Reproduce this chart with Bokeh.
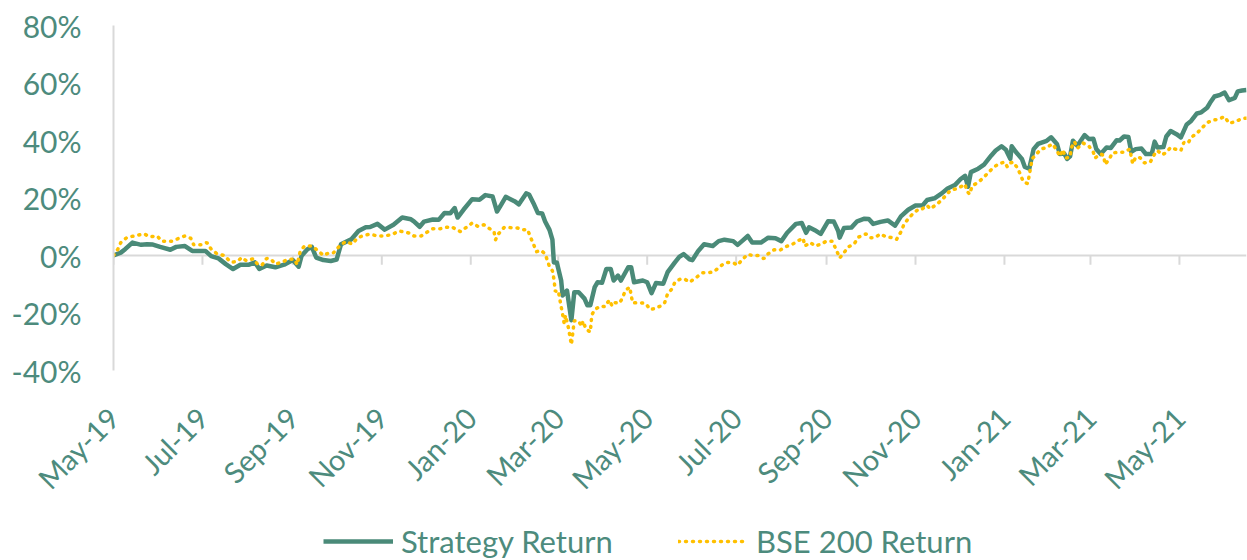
import math
import pandas as pd
from bokeh.plotting import figure
from bokeh.layouts import column
from bokeh.models import (Range1d, MonthsTicker, DatetimeTickFormatter, Span,
                          FixedTicker, PrintfTickFormatter, Legend, LegendItem, ColumnDataSource)
from bokeh.embed import file_html
from bokeh.resources import INLINE

# ---------------- data (cumulative return, %) ----------------
strategy_dates = [
    "2019-05-01", "2019-05-06", "2019-05-09", "2019-05-14", "2019-05-20", "2019-05-24", "2019-05-28",
    "2019-06-02", "2019-06-09", "2019-06-13", "2019-06-19", "2019-06-24", "2019-07-03", "2019-07-07",
    "2019-07-12", "2019-07-17", "2019-07-22", "2019-07-27", "2019-08-02", "2019-08-06", "2019-08-09",
    "2019-08-14", "2019-08-20", "2019-08-26", "2019-09-01", "2019-09-05", "2019-09-07", "2019-09-11",
    "2019-09-14", "2019-09-17", "2019-09-22", "2019-09-27", "2019-10-01", "2019-10-04", "2019-10-11",
    "2019-10-16", "2019-10-21", "2019-10-24", "2019-10-29", "2019-11-03", "2019-11-09", "2019-11-15",
    "2019-11-21", "2019-11-23", "2019-11-27", "2019-11-30", "2019-12-06", "2019-12-10", "2019-12-14",
    "2019-12-18", "2019-12-21", "2019-12-23", "2019-12-27", "2020-01-02", "2020-01-07", "2020-01-11",
    "2020-01-16", "2020-01-19", "2020-01-22", "2020-01-25", "2020-01-31", "2020-02-03", "2020-02-08",
    "2020-02-10", "2020-02-13", "2020-02-16", "2020-02-19", "2020-02-21", "2020-02-24", "2020-02-26",
    "2020-02-27", "2020-02-29", "2020-03-03", "2020-03-04", "2020-03-07", "2020-03-10", "2020-03-12",
    "2020-03-15", "2020-03-19", "2020-03-21", "2020-03-23", "2020-03-26", "2020-03-28", "2020-03-31",
    "2020-04-03", "2020-04-06", "2020-04-08", "2020-04-11", "2020-04-13", "2020-04-18", "2020-04-20",
    "2020-04-22", "2020-04-28", "2020-05-01", "2020-05-04", "2020-05-07", "2020-05-12", "2020-05-15",
    "2020-05-20", "2020-05-23", "2020-05-26", "2020-05-30", "2020-06-01", "2020-06-05", "2020-06-09",
    "2020-06-15", "2020-06-19", "2020-06-23", "2020-06-29", "2020-07-02", "2020-07-05", "2020-07-09",
    "2020-07-12", "2020-07-18", "2020-07-23", "2020-07-28", "2020-08-01", "2020-08-05", "2020-08-11",
    "2020-08-15", "2020-08-18", "2020-08-20", "2020-08-25", "2020-08-28", "2020-09-02", "2020-09-06",
    "2020-09-09", "2020-09-10", "2020-09-13", "2020-09-18", "2020-09-22", "2020-09-27", "2020-09-30",
    "2020-10-03", "2020-10-08", "2020-10-13", "2020-10-18", "2020-10-22", "2020-10-27", "2020-11-01",
    "2020-11-06", "2020-11-09", "2020-11-14", "2020-11-19", "2020-11-23", "2020-11-28", "2020-12-02",
    "2020-12-05", "2020-12-07", "2020-12-09", "2020-12-14", "2020-12-18", "2020-12-23", "2020-12-26",
    "2020-12-30", "2021-01-02", "2021-01-05", "2021-01-06", "2021-01-09", "2021-01-13", "2021-01-15",
    "2021-01-18", "2021-01-21", "2021-01-24", "2021-01-30", "2021-02-02", "2021-02-06", "2021-02-08",
    "2021-02-11", "2021-02-13", "2021-02-15", "2021-02-17", "2021-02-20", "2021-02-25", "2021-02-28",
    "2021-03-03", "2021-03-05", "2021-03-08", "2021-03-12", "2021-03-15", "2021-03-19", "2021-03-21",
    "2021-03-24", "2021-03-27", "2021-03-29", "2021-04-01", "2021-04-05", "2021-04-08", "2021-04-12",
    "2021-04-14", "2021-04-16", "2021-04-20", "2021-04-22", "2021-04-25", "2021-04-29", "2021-05-02",
    "2021-05-06", "2021-05-09", "2021-05-13", "2021-05-16", "2021-05-20", "2021-05-22", "2021-05-25",
    "2021-05-29", "2021-06-01", "2021-06-04", "2021-06-08", "2021-06-10", "2021-06-13", "2021-06-16",
]
strategy_return = [
    0.0, 1.0, 2.2, 4.5, 3.7, 3.9, 3.8,
    3.0, 2.0, 3.0, 3.3, 1.6, 1.6, -0.2,
    -1.0, -3.0, -4.7, -3.2, -3.2, -2.4, -4.7,
    -3.5, -4.1, -3.2, -1.6, -3.9, -0.1, 2.2,
    3.0, -0.7, -1.6, -1.9, -1.4, 3.9, 5.6,
    8.5, 9.8, 9.9, 11.0, 9.0, 10.7, 13.2,
    12.6, 11.9, 10.0, 11.8, 12.5, 12.4, 14.8,
    14.7, 16.5, 13.2, 15.9, 19.6, 19.4, 21.0,
    20.5, 15.3, 17.8, 20.4, 18.9, 17.8, 21.6,
    21.2, 18.2, 14.8, 14.6, 11.8, 8.9, 5.5,
    -2.4, -2.4, -8.7, -13.9, -12.2, -22.5, -12.8,
    -12.8, -15.0, -17.3, -17.3, -11.0, -9.3, -9.5,
    -4.7, -4.7, -8.7, -7.0, -8.7, -4.1, -4.1,
    -9.3, -8.7, -9.3, -13.1, -9.6, -9.8, -5.8,
    -2.4, -0.5, 0.5, -1.3, -1.6, 1.6, 3.9,
    3.3, 5.0, 5.5, 5.0, 3.7, 5.0, 6.8,
    4.5, 4.5, 6.2, 6.0, 5.0, 7.9, 11.0,
    11.3, 7.9, 9.8, 8.5, 7.5, 11.9, 11.8,
    8.5, 6.2, 9.6, 9.7, 11.9, 12.8, 12.7,
    11.0, 11.7, 12.2, 10.4, 13.6, 15.9, 17.4,
    17.5, 19.3, 19.9, 21.6, 23.3, 24.5, 26.6,
    27.7, 23.9, 29.0, 30.2, 31.6, 34.8, 36.5,
    38.0, 36.8, 33.6, 38.0, 35.9, 33.6, 30.8,
    30.2, 37.0, 38.8, 39.9, 41.1, 38.8, 35.3,
    35.5, 33.6, 34.5, 39.9, 38.2, 41.9, 40.5,
    40.6, 37.0, 35.3, 37.6, 37.4, 40.1, 40.0,
    41.4, 41.2, 36.1, 37.0, 37.2, 35.3, 35.3,
    39.6, 37.6, 37.7, 41.4, 43.3, 42.2, 41.1,
    45.6, 46.8, 49.4, 49.8, 51.4, 53.1, 55.3,
    55.9, 56.7, 54.0, 54.8, 57.1, 57.4, 57.6,
]

bse_dates = [
    "2019-05-01", "2019-05-04", "2019-05-06", "2019-05-10", "2019-05-15", "2019-05-22", "2019-05-26",
    "2019-05-31", "2019-06-03", "2019-06-10", "2019-06-15", "2019-06-19", "2019-06-23", "2019-06-25",
    "2019-06-30", "2019-07-04", "2019-07-07", "2019-07-11", "2019-07-16", "2019-07-18", "2019-07-21",
    "2019-07-25", "2019-07-28", "2019-07-31", "2019-08-05", "2019-08-08", "2019-08-11", "2019-08-14",
    "2019-08-17", "2019-08-20", "2019-08-25", "2019-08-29", "2019-09-02", "2019-09-04", "2019-09-06",
    "2019-09-09", "2019-09-14", "2019-09-18", "2019-09-22", "2019-09-26", "2019-09-29", "2019-10-03",
    "2019-10-07", "2019-10-12", "2019-10-15", "2019-10-20", "2019-10-24", "2019-10-29", "2019-11-03",
    "2019-11-08", "2019-11-13", "2019-11-20", "2019-11-23", "2019-11-28", "2019-12-02", "2019-12-06",
    "2019-12-11", "2019-12-15", "2019-12-19", "2019-12-22", "2019-12-25", "2019-12-29", "2020-01-02",
    "2020-01-06", "2020-01-10", "2020-01-14", "2020-01-17", "2020-01-18", "2020-01-20", "2020-01-24",
    "2020-01-28", "2020-02-02", "2020-02-05", "2020-02-09", "2020-02-11", "2020-02-13", "2020-02-15",
    "2020-02-18", "2020-02-21", "2020-02-24", "2020-02-26", "2020-02-27", "2020-02-28", "2020-03-01",
    "2020-03-03", "2020-03-04", "2020-03-05", "2020-03-06", "2020-03-08", "2020-03-09", "2020-03-10",
    "2020-03-12", "2020-03-15", "2020-03-17", "2020-03-18", "2020-03-20", "2020-03-23", "2020-03-24",
    "2020-03-26", "2020-03-30", "2020-04-02", "2020-04-05", "2020-04-07", "2020-04-09", "2020-04-12",
    "2020-04-14", "2020-04-16", "2020-04-19", "2020-04-21", "2020-04-26", "2020-04-30", "2020-05-03",
    "2020-05-06", "2020-05-10", "2020-05-13", "2020-05-15", "2020-05-18", "2020-05-20", "2020-05-24",
    "2020-05-27", "2020-05-30", "2020-06-04", "2020-06-08", "2020-06-10", "2020-06-15", "2020-06-18",
    "2020-06-22", "2020-06-25", "2020-06-29", "2020-07-02", "2020-07-05", "2020-07-09", "2020-07-13",
    "2020-07-16", "2020-07-20", "2020-07-23", "2020-07-27", "2020-07-31", "2020-08-04", "2020-08-08",
    "2020-08-12", "2020-08-16", "2020-08-17", "2020-08-21", "2020-08-24", "2020-08-28", "2020-09-01",
    "2020-09-05", "2020-09-07", "2020-09-09", "2020-09-10", "2020-09-13", "2020-09-16", "2020-09-20",
    "2020-09-23", "2020-09-28", "2020-10-01", "2020-10-04", "2020-10-08", "2020-10-12", "2020-10-15",
    "2020-10-19", "2020-10-22", "2020-10-24", "2020-10-27", "2020-10-30", "2020-11-03", "2020-11-05",
    "2020-11-09", "2020-11-11", "2020-11-15", "2020-11-19", "2020-11-22", "2020-11-25", "2020-11-30",
    "2020-12-05", "2020-12-06", "2020-12-08", "2020-12-10", "2020-12-14", "2020-12-18", "2020-12-21",
    "2020-12-24", "2020-12-28", "2021-01-01", "2021-01-03", "2021-01-05", "2021-01-07", "2021-01-10",
    "2021-01-12", "2021-01-14", "2021-01-17", "2021-01-18", "2021-01-20", "2021-01-23", "2021-01-26",
    "2021-01-30", "2021-02-03", "2021-02-06", "2021-02-08", "2021-02-10", "2021-02-12", "2021-02-15",
    "2021-02-16", "2021-02-18", "2021-02-20", "2021-02-24", "2021-02-28", "2021-03-03", "2021-03-04",
    "2021-03-08", "2021-03-10", "2021-03-11", "2021-03-14", "2021-03-16", "2021-03-20", "2021-03-24",
    "2021-03-28", "2021-03-29", "2021-03-30", "2021-04-01", "2021-04-04", "2021-04-07", "2021-04-11",
    "2021-04-14", "2021-04-16", "2021-04-19", "2021-04-22", "2021-04-25", "2021-04-28", "2021-05-02",
    "2021-05-04", "2021-05-07", "2021-05-09", "2021-05-13", "2021-05-16", "2021-05-20", "2021-05-24",
    "2021-05-27", "2021-06-01", "2021-06-04", "2021-06-08", "2021-06-13", "2021-06-16",
]
bse_return = [
    0.0, 2.2, 4.5, 6.2, 6.8, 7.5, 6.5,
    6.8, 5.0, 5.0, 6.0, 6.8, 6.0, 3.7,
    3.7, 4.5, 2.2, 0.6, 0.0, -1.1, -2.4,
    -2.0, -0.7, -1.8, -1.1, -3.2, -3.2, -1.0,
    -1.3, -3.0, -2.2, -1.3, -1.3, -3.2, 1.4,
    3.3, 3.3, 1.8, 0.0, 1.0, 1.0, 3.3,
    4.8, 4.0, 6.0, 7.1, 7.4, 6.8, 6.8,
    7.3, 8.5, 7.8, 6.8, 6.8, 8.1, 9.3,
    9.3, 9.8, 10.0, 9.0, 8.3, 9.8, 11.3,
    10.1, 10.7, 9.3, 8.2, 5.5, 7.5, 9.8,
    9.7, 9.6, 9.0, 9.0, 6.3, 4.0, 1.3,
    1.8, 0.6, -3.9, -5.3, -8.1, -12.5, -12.2,
    -17.8, -20.4, -23.5, -20.8, -25.2, -28.1, -31.0,
    -22.7, -22.8, -24.7, -22.8, -25.6, -26.6, -20.7,
    -18.8, -17.6, -17.8, -15.5, -17.6, -16.4, -16.6,
    -14.8, -12.2, -11.0, -16.5, -16.4, -16.7, -18.8,
    -18.5, -17.6, -16.4, -13.3, -11.6, -9.3, -8.1,
    -8.3, -9.3, -7.5, -6.0, -6.0, -5.8, -4.7,
    -3.0, -2.4, -2.5, -3.4, -1.5, 0.4, -0.1,
    0.0, -1.1, 0.6, 2.0, 1.8, 3.1, 3.7,
    5.0, 6.0, 3.3, 4.5, 3.3, 3.9, 5.0,
    5.0, 2.7, 0.4, -0.9, 1.0, 3.0, 4.1,
    6.4, 7.5, 6.2, 6.2, 7.5, 6.4, 6.3,
    5.6, 8.2, 10.7, 12.8, 14.4, 16.1, 16.0,
    17.4, 16.2, 17.6, 19.3, 21.0, 22.7, 23.3,
    24.8, 22.7, 21.3, 24.3, 25.4, 27.3, 28.8,
    30.4, 31.9, 32.5, 30.8, 32.2, 32.5, 30.4,
    28.1, 25.6, 25.0, 27.9, 33.6, 35.3, 37.0,
    37.6, 38.8, 36.5, 34.5, 36.8, 33.9, 34.2,
    37.6, 39.6, 37.3, 39.1, 38.0, 35.9, 33.9,
    35.3, 34.8, 31.6, 33.6, 35.7, 35.9, 35.9,
    37.0, 34.2, 31.9, 34.2, 34.0, 32.2, 32.5,
    35.3, 36.5, 35.0, 35.8, 37.6, 37.0, 36.5,
    39.3, 39.1, 41.1, 42.5, 44.1, 46.2, 47.1,
    47.3, 48.3, 46.0, 46.5, 47.6, 47.8,
]

y_ticks = [-40, -20, 0, 20, 40, 60, 80]
tick_months = [0, 2, 4, 6, 8, 10]          # Bokeh months are 0-based: Jan, Mar, May, ...
series_names = ["Strategy Return", "BSE 200 Return"]

# ---------------- style ----------------
TEAL = "#4A8A78"
TEXT = "#4D8B7D"
GOLD = "#FFC000"
GRAY = "#D9D9D9"
FONT = "Lato"
W = 1247

s_src = ColumnDataSource(dict(x=pd.to_datetime(strategy_dates), y=strategy_return))
b_src = ColumnDataSource(dict(x=pd.to_datetime(bse_dates), y=bse_return))

x_start = pd.Timestamp(strategy_dates[0])
x_end = pd.Timestamp(strategy_dates[-1])
tick_dates = pd.date_range(x_start, x_end, freq="2MS")

p = figure(width=W, height=510, x_axis_type="datetime",
           x_range=Range1d(x_start, x_end), y_range=Range1d(y_ticks[0], y_ticks[-1]),
           output_backend="svg", toolbar_location=None,
           min_border_left=113, min_border_top=25, min_border_right=1, min_border_bottom=137)
p.outline_line_color = None
p.xgrid.visible = False
p.ygrid.visible = False

# y axis
ya = p.yaxis[0]
ya.ticker = FixedTicker(ticks=y_ticks)
ya.formatter = PrintfTickFormatter(format="%d%%")
ya.axis_line_color = GRAY
ya.axis_line_width = 2
ya.major_tick_line_color = None
ya.minor_tick_line_color = None
ya.major_label_text_font = FONT
ya.major_label_text_font_size = "30px"
ya.major_label_text_color = TEXT
ya.major_label_standoff = 26

# bottom axis: labels only
xa = p.xaxis[0]
xa.ticker = MonthsTicker(months=tick_months)
xa.formatter = DatetimeTickFormatter(months="%b-%y", days="%b-%y", years="%b-%y")
xa.axis_line_color = None
xa.major_tick_line_color = None
xa.minor_tick_line_color = None
xa.major_label_orientation = math.pi / 4
xa.major_label_text_font = FONT
xa.major_label_text_font_size = "29px"
xa.major_label_text_color = TEXT
xa.major_label_standoff = 36

# zero line with small downward tick marks at the label dates
p.add_layout(Span(location=0, dimension="width", line_color=GRAY, line_width=2, level="underlay"))
p.segment(x0=tick_dates, y0=0, x1=tick_dates, y1=-3.2, line_color=GRAY, line_width=2)

p.line("x", "y", source=s_src, line_color=TEAL, line_width=4.5, line_join="round")
p.line("x", "y", source=b_src, line_color=GOLD, line_width=3.5, line_dash="1 6", line_cap="round")

# ---------------- legend strip below the chart ----------------
# (its frame is aligned with the chart frame by the column layout)
lg = figure(width=W, height=50, x_range=Range1d(0, 1), y_range=Range1d(0, 1),
            output_backend="svg", toolbar_location=None,
            x_axis_location=None, y_axis_location=None,
            min_border_left=0, min_border_right=0, min_border_top=0, min_border_bottom=0)
lg.outline_line_color = None
lg.xgrid.visible = False
lg.ygrid.visible = False
# legend-only proxy lines, kept outside the visible range of this strip
proxy = ColumnDataSource(dict(x=[5, 6], y=[5, 6]))
g1 = lg.line("x", "y", source=proxy, line_color=TEAL, line_width=4.5)
g2 = lg.line("x", "y", source=proxy, line_color=GOLD, line_width=3.5, line_dash="1 6", line_cap="round")
legend = Legend(items=[LegendItem(label=series_names[0], renderers=[g1]),
                       LegendItem(label=series_names[1], renderers=[g2])],
                orientation="horizontal", location=(210, 0),
                label_text_font=FONT, label_text_font_size="31px", label_text_color=TEXT,
                glyph_width=70, glyph_height=28, label_standoff=8, label_width=222, spacing=55,
                border_line_color=None, background_fill_alpha=0, padding=0, margin=0)
lg.add_layout(legend, "center")

open("out.html", "w").write(file_html(column(p, lg, spacing=0), INLINE))
